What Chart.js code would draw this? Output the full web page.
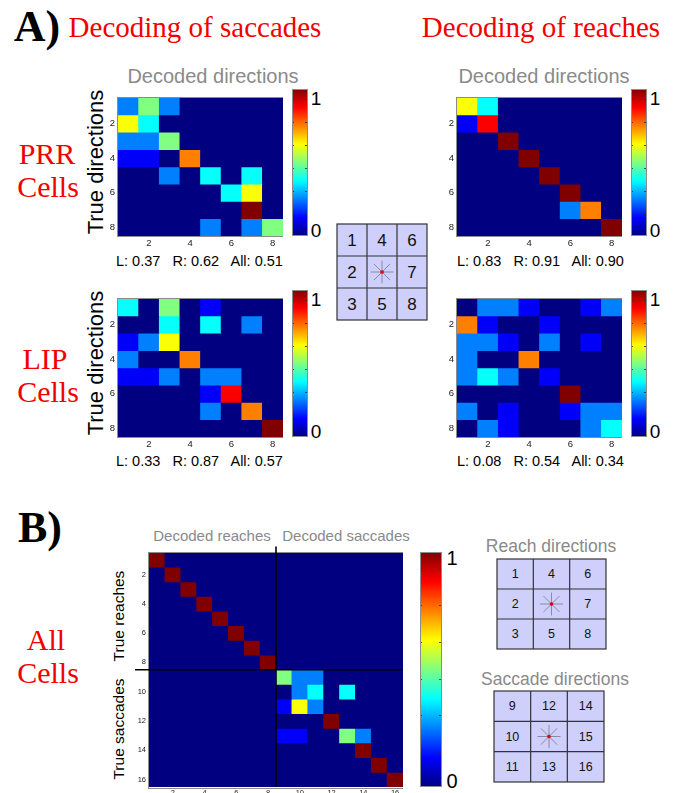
<!DOCTYPE html>
<html>
<head>
<meta charset="utf-8">
<script src="https://cdn.jsdelivr.net/npm/chart.js@4.4.1/dist/chart.umd.min.js"></script>
<style>
  html, body { margin: 0; padding: 0; background: #fff; overflow: hidden; }
  #page { position: relative; width: 675px; height: 793px; overflow: hidden; background: #fff; }
  #page canvas { position: absolute; }
  .t { position: absolute; white-space: pre; line-height: 1; transform: translate(-50%, -50%); }
  .l { transform: translate(0, -50%); }
  .rot { transform: translate(-50%, -50%) rotate(-90deg); }
  .serif { font-family: "Liberation Serif", "Times New Roman", serif; color: #f20000; }
  .big { font-family: "Liberation Serif", "Times New Roman", serif; font-weight: bold; color: #000; font-size: 44px; }
  .sans { font-family: "Liberation Sans", Arial, sans-serif; color: #000; }
  .gray { color: #8a8a8a; }
</style>
</head>
<body>
<div id="page">
  <div class="t big" style="left:37px; top:27px;">A)</div>
  <div class="t serif" style="left:195px; top:27px; font-size:29px;">Decoding of saccades</div>
  <div class="t serif" style="left:541px; top:27px; font-size:29px;">Decoding of reaches</div>

  <div class="t sans gray" style="left:213px; top:76px; font-size:20px;">Decoded directions</div>
  <div class="t sans gray" style="left:544px; top:76px; font-size:20px;">Decoded directions</div>

  <div class="t serif" style="left:47px; top:154px; font-size:30px;">PRR</div>
  <div class="t serif" style="left:48px; top:187px; font-size:30px;">Cells</div>
  <div class="t serif" style="left:45px; top:359px; font-size:30px;">LIP</div>
  <div class="t serif" style="left:48px; top:392px; font-size:30px;">Cells</div>

  <div class="t sans rot" style="left:96px; top:162px; font-size:22px;">True directions</div>
  <div class="t sans rot" style="left:96px; top:363px; font-size:22px;">True directions</div>

  <div class="t sans l" style="left:116px; top:261px; font-size:14.5px;">L: 0.37   R: 0.62   All: 0.51</div>
  <div class="t sans l" style="left:457px; top:261px; font-size:14.5px;">L: 0.83   R: 0.91   All: 0.90</div>
  <div class="t sans l" style="left:116px; top:461px; font-size:14.5px;">L: 0.33   R: 0.87   All: 0.57</div>
  <div class="t sans l" style="left:457px; top:461px; font-size:14.5px;">L: 0.08   R: 0.54   All: 0.34</div>

  <div class="t sans" style="left:316px; top:98px; font-size:19px;">1</div>
  <div class="t sans" style="left:316px; top:230px; font-size:19px;">0</div>
  <div class="t sans" style="left:655px; top:98px; font-size:19px;">1</div>
  <div class="t sans" style="left:655px; top:230px; font-size:19px;">0</div>
  <div class="t sans" style="left:316px; top:299px; font-size:19px;">1</div>
  <div class="t sans" style="left:316px; top:431px; font-size:19px;">0</div>
  <div class="t sans" style="left:655px; top:299px; font-size:19px;">1</div>
  <div class="t sans" style="left:655px; top:431px; font-size:19px;">0</div>

  <div class="t big" style="left:40px; top:528px;">B)</div>
  <div class="t serif" style="left:46px; top:640px; font-size:30px;">All</div>
  <div class="t serif" style="left:48px; top:673px; font-size:30px;">Cells</div>

  <div class="t sans gray" style="left:212px; top:535px; font-size:15px;">Decoded reaches</div>
  <div class="t sans gray" style="left:346px; top:535px; font-size:15px;">Decoded saccades</div>
  <div class="t sans rot" style="left:119px; top:616px; font-size:15.5px;">True reaches</div>
  <div class="t sans rot" style="left:119px; top:729px; font-size:15.5px;">True saccades</div>
  <div class="t sans" style="left:452px; top:558px; font-size:20px;">1</div>
  <div class="t sans" style="left:452px; top:781px; font-size:20px;">0</div>

  <div class="t sans gray" style="left:551px; top:547px; font-size:17.5px;">Reach directions</div>
  <div class="t sans gray" style="left:555px; top:680px; font-size:17.5px;">Saccade directions</div>
</div>

<script>
// confusion matrices: rows = true direction, columns = decoded direction
const prrSaccades = [
  [0.25, 0.50, 0.25, 0, 0, 0, 0, 0],
  [0.62, 0.38, 0, 0, 0, 0, 0, 0],
  [0.25, 0.25, 0.50, 0, 0, 0, 0, 0],
  [0.12, 0.12, 0, 0.75, 0, 0, 0, 0],
  [0, 0, 0.25, 0, 0.38, 0, 0.38, 0],
  [0, 0, 0, 0, 0, 0.38, 0.62, 0],
  [0, 0, 0, 0, 0, 0, 1, 0],
  [0, 0, 0, 0, 0.25, 0, 0.25, 0.50]
];
const prrReaches = [
  [0.62, 0.38, 0, 0, 0, 0, 0, 0],
  [0.12, 0.88, 0, 0, 0, 0, 0, 0],
  [0, 0, 1, 0, 0, 0, 0, 0],
  [0, 0, 0, 1, 0, 0, 0, 0],
  [0, 0, 0, 0, 1, 0, 0, 0],
  [0, 0, 0, 0, 0, 1, 0, 0],
  [0, 0, 0, 0, 0, 0.25, 0.75, 0],
  [0, 0, 0, 0, 0, 0, 0, 1]
];
const lipSaccades = [
  [0.38, 0, 0.50, 0, 0.12, 0, 0, 0],
  [0, 0, 0.38, 0, 0.38, 0, 0.25, 0],
  [0.12, 0.25, 0.62, 0, 0, 0, 0, 0],
  [0.25, 0, 0, 0.75, 0, 0, 0, 0],
  [0.12, 0.12, 0.25, 0, 0.25, 0.25, 0, 0],
  [0, 0, 0, 0, 0.12, 0.88, 0, 0],
  [0, 0, 0, 0, 0.25, 0, 0.75, 0],
  [0, 0, 0, 0, 0, 0, 0, 1]
];
const lipReaches = [
  [0, 0.25, 0.25, 0.12, 0, 0, 0.12, 0.25],
  [0.75, 0.12, 0, 0, 0.12, 0, 0, 0],
  [0.25, 0.25, 0.12, 0, 0.25, 0, 0.12, 0],
  [0.25, 0, 0, 0.75, 0, 0, 0, 0],
  [0.25, 0.38, 0.25, 0, 0.12, 0, 0, 0],
  [0, 0, 0, 0, 0, 1, 0, 0],
  [0.25, 0, 0.12, 0, 0, 0.12, 0.25, 0.25],
  [0, 0.25, 0.12, 0, 0, 0, 0.25, 0.38]
];
// reaches 1-8 then saccades 9-16
const allCells = [
  [1, 0, 0, 0, 0, 0, 0, 0, 0, 0, 0, 0, 0, 0, 0, 0],
  [0, 1, 0, 0, 0, 0, 0, 0, 0, 0, 0, 0, 0, 0, 0, 0],
  [0, 0, 1, 0, 0, 0, 0, 0, 0, 0, 0, 0, 0, 0, 0, 0],
  [0, 0, 0, 1, 0, 0, 0, 0, 0, 0, 0, 0, 0, 0, 0, 0],
  [0, 0, 0, 0, 1, 0, 0, 0, 0, 0, 0, 0, 0, 0, 0, 0],
  [0, 0, 0, 0, 0, 1, 0, 0, 0, 0, 0, 0, 0, 0, 0, 0],
  [0, 0, 0, 0, 0, 0, 1, 0, 0, 0, 0, 0, 0, 0, 0, 0],
  [0, 0, 0, 0, 0, 0, 0, 1, 0, 0, 0, 0, 0, 0, 0, 0],
  [0, 0, 0, 0, 0, 0, 0, 0, 0.50, 0.25, 0.25, 0, 0, 0, 0, 0],
  [0, 0, 0, 0, 0, 0, 0, 0, 0, 0.25, 0.38, 0, 0.38, 0, 0, 0],
  [0, 0, 0, 0, 0, 0, 0, 0, 0.12, 0.62, 0.25, 0, 0, 0, 0, 0],
  [0, 0, 0, 0, 0, 0, 0, 0, 0, 0, 0, 1, 0, 0, 0, 0],
  [0, 0, 0, 0, 0, 0, 0, 0, 0.12, 0.12, 0, 0, 0.50, 0.25, 0, 0],
  [0, 0, 0, 0, 0, 0, 0, 0, 0, 0, 0, 0, 0, 1, 0, 0],
  [0, 0, 0, 0, 0, 0, 0, 0, 0, 0, 0, 0, 0, 0, 1, 0],
  [0, 0, 0, 0, 0, 0, 0, 0, 0, 0, 0, 0, 0, 0, 0, 1]
];

const ticksA = [2, 4, 6, 8];
const ticksB = [2, 4, 6, 8, 10, 12, 14, 16];
const cbarRange = [0.5, 64.5];
const cbarTicks = [10, 20, 30, 40, 50, 60];

// layout of the direction keys (null = centre star)
const reachGrid = [[1, 4, 6], [2, null, 7], [3, 5, 8]];
const saccadeGrid = [[9, 12, 14], [10, null, 15], [11, 13, 16]];

// matlab jet colormap
const jet = v => {
  const c = x => Math.round(255 * Math.max(0, Math.min(1, x)));
  return `rgb(${c(1.5 - Math.abs(4 * v - 3))},${c(1.5 - Math.abs(4 * v - 2))},${c(1.5 - Math.abs(4 * v - 1))})`;
};

const page = document.getElementById('page');

const addCanvas = (left, top, w, h) => {
  const cv = document.createElement('canvas');
  cv.width = w;
  cv.height = h;
  cv.style.left = left + 'px';
  cv.style.top = top + 'px';
  cv.style.width = w + 'px';
  cv.style.height = h + 'px';
  page.appendChild(cv);
  return cv;
};

// dark blue background under the cells and a grey box round the axes
const frame = {
  id: 'frame',
  beforeDatasetsDraw(chart) {
    const { ctx, chartArea: a } = chart;
    ctx.save();
    ctx.fillStyle = jet(0);
    ctx.fillRect(a.left, a.top, a.width, a.height);
    ctx.restore();
  },
  afterDraw(chart) {
    const { ctx, chartArea: a } = chart;
    ctx.save();
    ctx.strokeStyle = '#8c8c8c';
    ctx.lineWidth = 1;
    ctx.strokeRect(Math.round(a.left) - 0.5, Math.round(a.top) - 0.5, Math.round(a.width) + 1, Math.round(a.height) + 1);
    ctx.restore();
  }
};

// black lines splitting reaches from saccades in panel B
const divider = {
  id: 'divider',
  afterDraw(chart) {
    const { ctx, chartArea: a, scales: { x, y } } = chart;
    const xm = (x.getPixelForValue(7) + x.getPixelForValue(8)) / 2;
    const ym = y.getPixelForValue(8.5);
    ctx.save();
    ctx.strokeStyle = '#000';
    ctx.lineWidth = 1.6;
    ctx.beginPath();
    ctx.moveTo(xm, a.top - 6);
    ctx.lineTo(xm, a.bottom);
    ctx.moveTo(a.left - 14, ym);
    ctx.lineTo(a.right, ym);
    ctx.stroke();
    ctx.restore();
  }
};

function heatmap(left, top, w, h, matrix, ticks, opt) {
  const axisW = opt.axisW, axisH = opt.axisH, padTop = opt.padTop || 0;
  const cv = addCanvas(left - axisW, top - padTop, w + axisW, h + axisH + padTop);
  const n = matrix.length;
  const labels = matrix.map((_, i) => String(i + 1));
  const font = { family: '"Liberation Sans", Arial, sans-serif', size: opt.fontSize };

  new Chart(cv, {
    type: 'bar',
    data: {
      labels: labels,
      datasets: matrix.map((row, r) => ({
        data: row.map(() => [r + 0.5, r + 1.5]),
        backgroundColor: row.map(jet),
        borderWidth: 0,
        grouped: false,
        barPercentage: 1,
        categoryPercentage: 1
      }))
    },
    options: {
      responsive: false,
      animation: false,
      devicePixelRatio: 1,
      events: [],
      layout: { padding: { top: padTop, left: 0, right: 0, bottom: 0 } },
      plugins: { legend: { display: false }, tooltip: { enabled: false } },
      scales: {
        x: {
          type: 'category',
          grid: { display: false, drawTicks: false },
          border: { display: false },
          ticks: {
            autoSkip: false, maxRotation: 0, padding: opt.xPad, font: font, color: '#222',
            callback: (v, i) => ticks.includes(i + 1) ? labels[i] : ''
          },
          afterFit: s => { s.height = axisH; }
        },
        y: {
          type: 'linear',
          reverse: true,
          min: 0.5,
          max: n + 0.5,
          grid: { display: false, drawTicks: false },
          border: { display: false },
          ticks: { font: font, color: '#222', padding: 3 },
          afterBuildTicks: s => { s.ticks = ticks.map(v => ({ value: v })); },
          afterFit: s => { s.width = axisW; }
        }
      }
    },
    plugins: opt.split ? [frame, divider] : [frame]
  });
}

const cbarMarks = {
  id: 'cbarMarks',
  afterDraw(chart) {
    const { ctx, chartArea: a, scales: { y } } = chart;
    ctx.save();
    ctx.strokeStyle = 'rgba(40,40,40,0.8)';
    ctx.lineWidth = 1;
    cbarTicks.forEach(v => {
      const py = Math.round(y.getPixelForValue(v)) + 0.5;
      ctx.beginPath();
      ctx.moveTo(a.right - 3, py);
      ctx.lineTo(a.right, py);
      ctx.moveTo(a.left, py);
      ctx.lineTo(a.left + 2, py);
      ctx.stroke();
    });
    ctx.strokeStyle = '#8c8c8c';
    ctx.strokeRect(a.left + 0.5, a.top + 0.5, a.width - 1, a.height - 1);
    ctx.restore();
  }
};

function colorbar(left, top, w, h) {
  const cv = addCanvas(left, top, w, h);
  new Chart(cv, {
    type: 'bar',
    data: {
      labels: [''],
      datasets: [{
        data: [cbarRange],
        borderWidth: 0,
        barPercentage: 1,
        categoryPercentage: 1,
        backgroundColor: ctx => {
          const a = ctx.chart.chartArea;
          if (!a) return jet(0);
          const g = ctx.chart.ctx.createLinearGradient(0, a.bottom, 0, a.top);
          [0, 0.125, 0.375, 0.625, 0.875, 1].forEach(s => g.addColorStop(s, jet(s)));
          return g;
        }
      }]
    },
    options: {
      responsive: false,
      animation: false,
      devicePixelRatio: 1,
      events: [],
      layout: { padding: 0 },
      plugins: { legend: { display: false }, tooltip: { enabled: false } },
      scales: {
        x: { display: false },
        y: { display: false, min: cbarRange[0], max: cbarRange[1] }
      }
    },
    plugins: [cbarMarks]
  });
}

function dirGrid(left, top, w, h, cells, fontSize) {
  const ns = 'http://www.w3.org/2000/svg';
  const svg = document.createElementNS(ns, 'svg');
  svg.setAttribute('width', w + 2);
  svg.setAttribute('height', h + 2);
  svg.style.position = 'absolute';
  svg.style.left = (left - 1) + 'px';
  svg.style.top = (top - 1) + 'px';
  const cw = w / 3, ch = h / 3;
  const el = (tag, attrs) => {
    const e = document.createElementNS(ns, tag);
    Object.entries(attrs).forEach(([k, v]) => e.setAttribute(k, v));
    svg.appendChild(e);
    return e;
  };
  el('rect', { x: 1, y: 1, width: w, height: h, fill: '#cfcffb', stroke: '#333', 'stroke-width': 1.2 });
  for (let i = 1; i < 3; i++) {
    el('line', { x1: 1 + i * cw, y1: 1, x2: 1 + i * cw, y2: 1 + h, stroke: '#333', 'stroke-width': 1.2 });
    el('line', { x1: 1, y1: 1 + i * ch, x2: 1 + w, y2: 1 + i * ch, stroke: '#333', 'stroke-width': 1.2 });
  }
  cells.forEach((row, r) => row.forEach((num, c) => {
    const cx = 1 + (c + 0.5) * cw, cy = 1 + (r + 0.5) * ch;
    if (num === null) {
      const len = Math.min(cw, ch) * 0.38;
      for (let k = 0; k < 8; k++) {
        const ang = k * Math.PI / 4;
        el('line', { x1: cx, y1: cy, x2: cx + len * Math.cos(ang), y2: cy + len * Math.sin(ang), stroke: '#8a8aa6', 'stroke-width': 1 });
      }
      el('circle', { cx: cx, cy: cy, r: 1.8, fill: '#e00000' });
    } else {
      const t = el('text', {
        x: cx, y: cy, 'text-anchor': 'middle', 'dominant-baseline': 'central',
        'font-family': '"Liberation Sans", Arial, sans-serif', 'font-size': fontSize, fill: '#111'
      });
      t.textContent = String(num);
    }
  }));
  page.appendChild(svg);
}

// panel A
const optA = { axisW: 20, axisH: 22, xPad: 2, fontSize: 9.5 };
heatmap(118, 89, 165, 147, prrSaccades, ticksA, optA);
heatmap(457, 89, 165, 147, prrReaches, ticksA, optA);
heatmap(118, 290, 165, 147, lipSaccades, ticksA, optA);
heatmap(457, 290, 165, 147, lipReaches, ticksA, optA);
colorbar(292, 89, 16, 147);
colorbar(631, 89, 16, 147);
colorbar(292, 290, 16, 147);
colorbar(631, 290, 16, 147);
dirGrid(337, 224, 90, 96, reachGrid, 17);

// panel B
heatmap(149, 552, 254, 235, allCells, ticksB, { axisW: 18, axisH: 16, xPad: 1, padTop: 7, fontSize: 7.5, split: true });
colorbar(420, 552, 22, 235);
dirGrid(497, 559, 109, 90, reachGrid, 12.5);
dirGrid(494, 691, 110, 91, saccadeGrid, 12.5);
</script>
</body>
</html>
